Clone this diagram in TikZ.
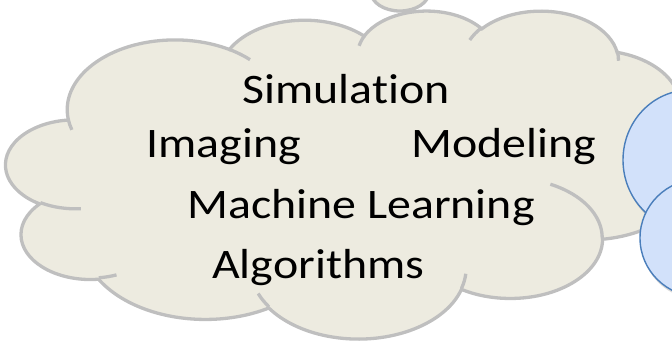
\documentclass[tikz,border=0pt]{standalone}
\usepackage{fontspec}
\setmainfont{Carlito}[Ligatures=NoCommon]
\usetikzlibrary{shadows}

% one puff of the cloud: x radius, y radius, start angle, sweep
\newcommand\puff[4]{arc[x radius=#1, y radius=#2,
	start angle={atan2(#1*sin(#3),#2*cos(#3))},
	delta angle={mod(atan2(#1*sin(#3+#4),#2*cos(#3+#4))-atan2(#1*sin(#3),#2*cos(#3))+720,360)}]}

\begin{document}
\begin{tikzpicture}[
		x=1pt, y=-1pt,
		cloudfill/.style={ fill=cloudtan, draw=cloudgray, line width=3.3pt, },
		crease/.style={ draw=cloudgray, line width=3.3pt, },
		bluepuff/.style={ fill=puffblue, draw=puffline, line width=1.4pt,
			drop shadow={shadow xshift=1pt, shadow yshift=-3pt, opacity=.3}, },
		word/.style={ anchor=base west, inner sep=0pt, xscale=1.14, font=\fontsize{42}{42}\selectfont, },
		]
		\definecolor{cloudtan}{HTML}{EDEBE0}
		\definecolor{cloudgray}{HTML}{BFBFBF}
		\definecolor{puffblue}{HTML}{D2E1FA}
		\definecolor{puffline}{HTML}{4A7EBB}
		\useasboundingbox (0,0) rectangle (672,343);
		
		% thought bubble
		\path[cloudfill] (400,-8) ellipse[x radius=29, y radius=19];
		
		\begin{scope}[xshift=6pt, yshift=-10pt, x=1.595pt, y=-0.759pt]
			\path[cloudfill] (39,143.7)
				\puff{67.53}{91.90}{-190.4875}{123.7805}
				\puff{53.33}{72.67}{-144.1024}{89.9452}
				\puff{43.65}{59.45}{-145.8079}{99.7230}
				\puff{48.57}{65.95}{-130.9861}{117.2417}
				\puff{53.33}{72.73}{-78.7089}{109.0269}
				\puff{67.75}{92.20}{-46.2673}{130.2690}
				\puff{57.85}{78.67}{0.6250}{114.0333}
				\puff{67.52}{92.15}{22.4516}{115.1726}
				\puff{77.20}{105.43}{66.2426}{75.7110}
				\puff{43.60}{59.18}{-274.9421}{146.7356}
				\puff{43.45}{59.45}{-246.8285}{152.5189}
				-- cycle;
			\path[crease]
				(46.93,261.77) \puff{43.45}{59.45}{86.7420}{26.4295}
				(69.28,348.99) \puff{43.60}{59.18}{73.6105}{11.4475}
				(164.78,390.90) \puff{67.52}{92.15}{137.6242}{14.0811}
				(288.27,347.51) \puff{67.52}{92.15}{6.4533}{15.9984}
				(341.29,229.54) \puff{57.85}{78.67}{-70.2924}{70.9174}
				(417.98,153.54) \puff{53.33}{72.73}{30.3180}{27.7515}
				(383.24,54.26) \puff{48.57}{65.95}{-13.7443}{14.8589}
				(290.78,39.52) \puff{48.57}{65.95}{-149.1815}{18.1954}
				(221.41,47.20) \puff{43.65}{59.45}{-163.4943}{17.6864}
				(140.00,51.92) \puff{67.53}{91.90}{-66.7070}{12.3194}
				(41.27,157.89) \puff{67.53}{91.90}{157.6544}{11.8582};
		\end{scope}
		
		\node[word] (sim) at (242,103) {Simulation};
		\node[word] (img) at (146,157) {Imaging};
		\node[word] (mod) at (411,157) {Modeling};
		\node[word] (ml) at (187,218) {Machine Learning};
		\node[word] (alg) at (212,278) {Algorithms};
		
		% blue cloud at the right edge
		\path[bluepuff] (690,160) ellipse[x radius=67, y radius=70];
		\path[bluepuff] (700,238) ellipse[x radius=60, y radius=59];
\end{tikzpicture}
\end{document}
